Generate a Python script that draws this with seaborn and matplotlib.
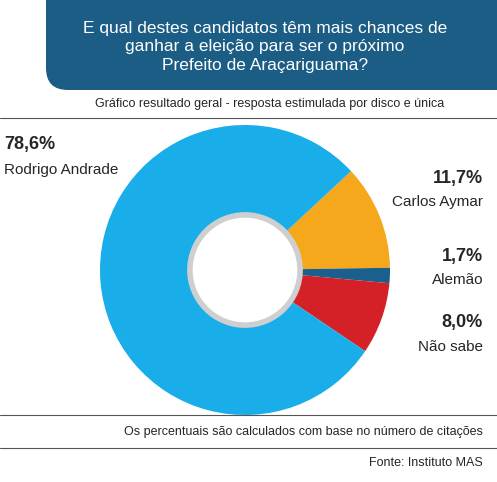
import matplotlib
matplotlib.use("Agg")
import matplotlib.pyplot as plt
import seaborn as sns
from matplotlib.patches import FancyBboxPatch, Circle

sns.set_theme(style="white")
plt.rcParams['font.family'] = ['Liberation Sans', 'DejaVu Sans']

candidates = ['Carlos Aymar', 'Alemão', 'Não sabe', 'Rodrigo Andrade']
values = [11.7, 1.7, 8.0, 78.6]
labels = ['11,7%', '1,7%', '8,0%', '78,6%']
colors = ['#f5a81c', '#1b5f8c', '#d42127', '#19aee9']

W, H = 497, 482
fig = plt.figure(figsize=(W / 100, H / 100), dpi=100)

# overlay in pixel coords
bg = fig.add_axes([0, 0, 1, 1])
bg.set_xlim(0, W)
bg.set_ylim(H, 0)
bg.axis('off')

bg.add_patch(FancyBboxPatch((46, -30), 500, 120, boxstyle="round,pad=0,rounding_size=22",
                            facecolor='#1c5d85', edgecolor='none'))
bg.text(265, 47, 'E qual destes candidatos têm mais chances de\nganhar a eleição para ser o próximo\nPrefeito de Araçariguama?',
        color='white', fontsize=12.5, ha='center', va='center', linespacing=1.3)
bg.text(270, 104, 'Gráfico resultado geral - resposta estimulada por disco e única',
        fontsize=9, ha='center', va='center')
for y in (118, 415, 448):
    bg.plot([0, W], [y, y], color='#555555', lw=0.8)
bg.text(483, 432, 'Os percentuais são calculados com base no número de citações',
        fontsize=9, ha='right', va='center')
bg.text(483, 463, 'Fonte: Instituto MAS', fontsize=9, ha='right', va='center')

# labels
pos = {'Rodrigo Andrade': (4, 'left', 145, 170), 'Carlos Aymar': (483, 'right', 178, 202),
       'Alemão': (483, 'right', 256, 280), 'Não sabe': (483, 'right', 323, 347)}
for name, lab in zip(candidates, labels):
    x, ha, y1, y2 = pos[name]
    bg.text(x, y1, lab, fontsize=13, fontweight='bold', ha=ha, va='center')
    bg.text(x, y2, name, fontsize=11, ha=ha, va='center')

# donut
ax = fig.add_axes([100 / W, (H - 415) / H, 290 / W, 290 / H])
ax.pie(values, colors=colors, startangle=43, counterclock=False,
       wedgeprops=dict(width=0.62, edgecolor='none'))
ax.add_patch(Circle((0, 0), 0.38, facecolor='none', edgecolor='#cfcfcf', lw=4))
ax.set_xlim(-1, 1)
ax.set_ylim(-1, 1)
ax.set_aspect('equal')

fig.savefig('out.png', dpi=100)
